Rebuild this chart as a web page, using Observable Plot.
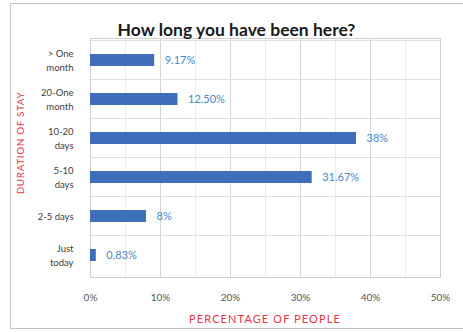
<!DOCTYPE html>
<html>
<head>
<meta charset="utf-8">
<script src="https://cdn.jsdelivr.net/npm/d3@7"></script>
<script src="https://cdn.jsdelivr.net/npm/@observablehq/plot@0.6"></script>
<style>
  html, body { margin: 0; padding: 0; background: #fff; }
  #wrap { position: relative; width: 463px; height: 332px; overflow: hidden; font-family: Lato, "Open Sans", sans-serif; }
  #border { position: absolute; left: 10px; top: 3px; width: 470px; height: 326px; border: 1px solid #c4c4c4; box-sizing: border-box; }
  #title { position: absolute; left: 0; width: 473px; top: 19px; text-align: center; font-weight: bold; font-size: 17.5px; color: #1a1a1a; }
  #ytitle { position: absolute; left: 20px; top: 143px; transform: translate(-50%, -50%) rotate(-90deg); color: #e8344c; font-size: 10px; letter-spacing: 0.6px; white-space: nowrap; }
  #xtitle { position: absolute; left: 265px; top: 312px; transform: translateX(-50%); color: #e8344c; font-size: 11px; letter-spacing: 1.1px; white-space: nowrap; }
  #chart { position: absolute; left: 0; top: 0; }
</style>
</head>
<body>
<div id="wrap">
  <div id="border"></div>
  <div id="chart"></div>
  <div id="title">How long you have been here?</div>
  <div id="ytitle">DURATION OF STAY</div>
  <div id="xtitle">PERCENTAGE OF PEOPLE</div>
</div>
<script>
const categories = ["> One month", "20-One month", "10-20 days", "5-10 days", "2-5 days", "Just today"];
const categoryLines = ["> One\nmonth", "20-One\nmonth", "10-20\ndays", "5-10\ndays", "2-5 days", "Just\ntoday"];
const values = [9.17, 12.50, 38, 31.67, 8, 0.83];
const valueLabels = ["9.17%", "12.50%", "38%", "31.67%", "8%", "0.83%"];
const xTicks = [0, 10, 20, 30, 40, 50];
const xMinorTicks = [5, 15, 25, 35, 45];

const data = categories.map((c, i) => ({cat: c, lines: categoryLines[i], value: values[i], label: valueLabels[i]}));

const chart = Plot.plot({
  width: 463,
  height: 332,
  marginLeft: 90,
  marginRight: 23,
  marginTop: 38,
  marginBottom: 55,
  style: {fontFamily: "Lato, 'Open Sans', sans-serif", background: "transparent"},
  x: {domain: [0, 50], ticks: xTicks, tickFormat: d => d + "%", tickSize: 0, tickPadding: 16, label: null},
  y: {domain: categories, paddingInner: 0.7, paddingOuter: 0.35, axis: null},
  marks: [
    Plot.ruleX(xMinorTicks, {stroke: "#ececec"}),
    Plot.ruleX(xTicks, {stroke: "#d6d6d6"}),
    Plot.ruleY(categories, {y: d => d, dy: -20, stroke: "#dedede"}),
    Plot.frame({stroke: "#d0d0d0"}),
    Plot.barX(data, {x: "value", y: "cat", fill: "#3f6fba"}),
    Plot.text(data, {x: "value", y: "cat", text: "label", dx: 10, textAnchor: "start", fill: "#4a86c8", fontSize: 11}),
    Plot.text(data, {y: "cat", text: "lines", frameAnchor: "left", dx: -17, dy: -1, textAnchor: "end", lineHeight: 1.5, fill: "#404040", fontSize: 9.5}),
    Plot.axisX({ticks: xTicks, tickFormat: d => d + "%", tickSize: 0, tickPadding: 16, fill: "#555", fontSize: 10, label: null})
  ]
});
document.getElementById("chart").appendChild(chart);
</script>
</body>
</html>
